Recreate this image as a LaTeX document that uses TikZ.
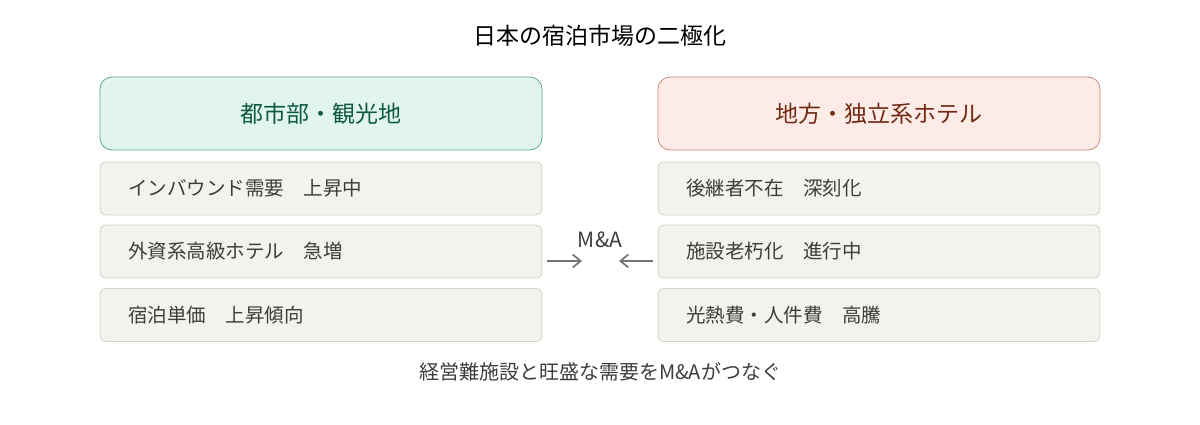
\documentclass[tikz,border=0pt]{standalone}
\usepackage{fontspec}
\setmainfont{Noto Sans CJK JP}
\usetikzlibrary{arrows.meta}
\definecolor{hdgfill}{HTML}{E1F5EE}
\definecolor{hdgdraw}{HTML}{5FA890}
\definecolor{hdgtext}{HTML}{0F5A44}
\definecolor{hdrfill}{HTML}{FCEBE7}
\definecolor{hdrdraw}{HTML}{C98A78}
\definecolor{hdrtext}{HTML}{712B13}
\definecolor{itemfill}{HTML}{F3F2EC}
\definecolor{itemdraw}{HTML}{D3D1C7}
\definecolor{itemtext}{HTML}{3D3D3A}
\definecolor{arrowc}{HTML}{737373}
\tikzset{
  hdr/.style={draw, line width=0.8pt, rounded corners=12pt, minimum width=442pt, minimum height=73pt, inner sep=0pt, font=\fontsize{23}{27}\selectfont},
  hdrgreen/.style={hdr, fill=hdgfill, draw=hdgdraw, text=hdgtext},
  hdrred/.style={hdr, fill=hdrfill, draw=hdrdraw, text=hdrtext},
  item/.style={draw=itemdraw, fill=itemfill, line width=0.8pt, rounded corners=6pt, minimum width=442pt, minimum height=53pt, inner sep=0pt},
  itemtxt/.style={anchor=west, text=itemtext, font=\fontsize{19.5}{23}\selectfont, inner sep=0pt},
  conn/.style={draw=arrowc, line width=1.7pt, -{Straight Barb[length=8pt,width=13pt]}},
}
\begin{document}
\begin{tikzpicture}[x=1pt,y=-1pt]
\useasboundingbox (0,0) rectangle (1200,425);
\node[font=\fontsize{23}{27}\selectfont, text=black] (title) at (600,36) {日本の宿泊市場の二極化};
\node[hdrgreen] (LH) at (321,113.5) {都市部・観光地};
\node[hdrred] (RH) at (879,113.5) {地方・独立系ホテル};
\node[item] (L1) at (321,188.5) {};
\node[item] (L2) at (321,251.5) {};
\node[item] (L3) at (321,315) {};
\node[item] (R1) at (879,188.5) {};
\node[item] (R2) at (879,251.5) {};
\node[item] (R3) at (879,315) {};
\node[itemtxt] (L1t) at (128,188.5) {インバウンド需要　上昇中};
\node[itemtxt] (L2t) at (128,251.5) {外資系高級ホテル　急増};
\node[itemtxt] (L3t) at (128,315) {宿泊単価　上昇傾向};
\node[itemtxt] (R1t) at (686,188.5) {後継者不在　深刻化};
\node[itemtxt] (R2t) at (686,251.5) {施設老朽化　進行中};
\node[itemtxt] (R3t) at (686,315) {光熱費・人件費　高騰};
\node[font=\fontsize{21}{25}\selectfont, text=itemtext] (ma) at (600,240) {M\&A};
\coordinate (la) at (582,261);
\coordinate (ra) at (619,261);
\draw[conn] ([xshift=5pt]L2.east |- la) -- (la);
\draw[conn] ([xshift=-5pt]R2.west |- ra) -- (ra);
\node[font=\fontsize{20}{24}\selectfont, text=itemtext] (foot) at (600,372) {経営難施設と旺盛な需要をM\&Aがつなぐ};
\end{tikzpicture}
\end{document}
